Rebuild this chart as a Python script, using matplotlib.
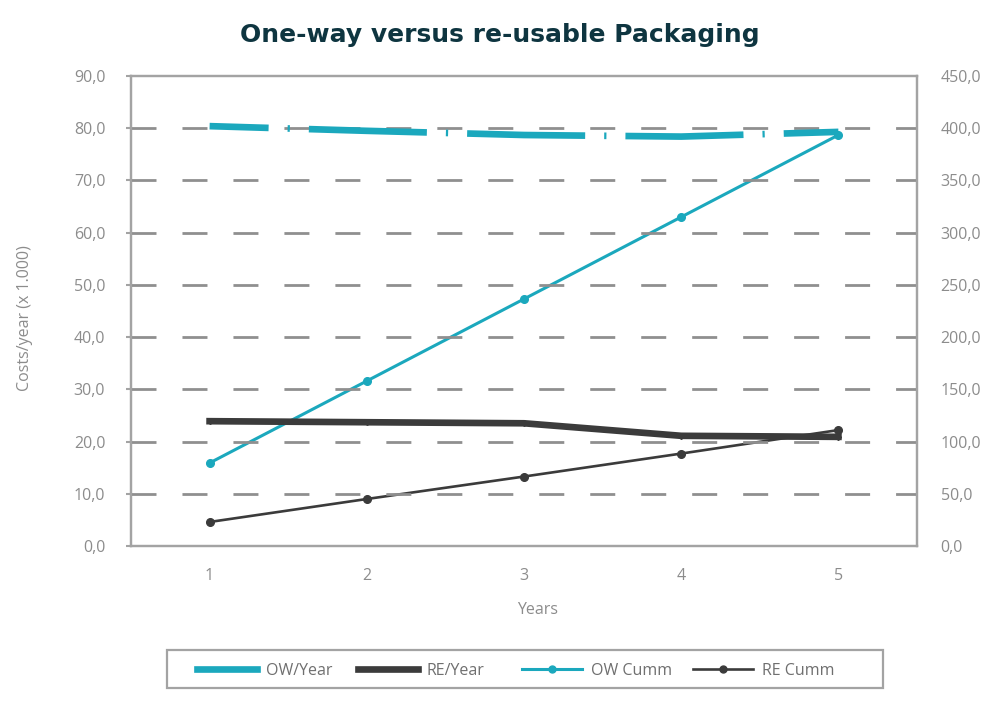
import matplotlib
matplotlib.use("Agg")
import matplotlib.pyplot as plt
from matplotlib.ticker import FuncFormatter, FixedLocator
from matplotlib.patches import Rectangle

plt.rcParams['lines.scale_dashes'] = False
plt.rcParams['font.family'] = ['Open Sans', 'DejaVu Sans']

years = [1, 2, 3, 4, 5]
ow_year = [80.4, 79.5, 78.7, 78.4, 79.3]
re_year = [23.9, 23.7, 23.5, 21.1, 20.9]
ow_cumm = [79.5, 158.0, 236.5, 315.0, 393.5]
re_cumm = [23.0, 45.0, 66.5, 88.5, 111.0]

title = "One-way versus re-usable Packaging"
ylabel = "Costs/year (x 1.000)"
xlabel = "Years"
labels = ["OW/Year", "RE/Year", "OW Cumm", "RE Cumm"]

TEAL = '#1ba8bd'
DARK = '#3b3b3b'
GRAY_TXT = '#8c8c8c'
GRID = '#8f8f8f'
SPINE = '#a3a3a3'

fig = plt.figure(figsize=(10, 7.09), dpi=100)
ax = fig.add_axes([0.131, 0.2299, 0.786, 0.6629])
ax2 = ax.twinx()

ax.set_xlim(0.5, 5.5)
ax.set_ylim(0, 90)
ax2.set_ylim(0, 450)

ax.yaxis.set_major_locator(FixedLocator([0, 10, 20, 30, 40, 50, 60, 70, 80, 90]))
ax2.yaxis.set_major_locator(FixedLocator([0, 50, 100, 150, 200, 250, 300, 350, 400, 450]))
fmt = FuncFormatter(lambda v, p: f"{v:.1f}".replace('.', ','))
ax.yaxis.set_major_formatter(fmt)
ax2.yaxis.set_major_formatter(fmt)
ax.set_xticks(years)
ax.set_xticklabels([str(y) for y in years])

for y in [10, 20, 30, 40, 50, 60, 70, 80]:
    ax.axhline(y, color=GRID, lw=2.0, dashes=(18, 18.7), dash_capstyle='butt', zorder=1)

for a in (ax, ax2):
    for s in a.spines.values():
        s.set_color(SPINE)
        s.set_linewidth(1.6)

ax.tick_params(axis='y', colors=SPINE, labelcolor=GRAY_TXT, labelsize=11.5, length=3.5, width=1.5, pad=15)
ax.tick_params(axis='x', length=0, labelcolor=GRAY_TXT, labelsize=11.5, pad=16)
ax2.tick_params(axis='y', length=0, labelcolor=GRAY_TXT, labelsize=11.5, pad=17)

# OW/Year dash-dot thick
l1, = ax.plot(years, ow_year, color=TEAL, lw=4.8, linestyle=(42.5, (85, 13.7, 1.6, 13.7)),
              dash_capstyle='butt', solid_capstyle='butt', zorder=3)
l2, = ax.plot(years, re_year, color=DARK, lw=4.8, marker='D', markersize=3, zorder=3)
l3, = ax2.plot(years, ow_cumm, color=TEAL, lw=2.2, marker='o', markersize=5.5, zorder=4)
l4, = ax2.plot(years, re_cumm, color=DARK, lw=1.9, marker='o', markersize=5.5, zorder=4)

ax.set_zorder(ax2.get_zorder() + 1)
ax.patch.set_visible(False)

fig.text(0.5, 1 - 35 / 709, title, ha='center', va='center', fontsize=18, fontweight='bold',
         color='#0e3540', family=['DejaVu Sans'])
fig.text(0.025, 1 - 318 / 709, ylabel, rotation=90, ha='center', va='center', fontsize=11.5, color=GRAY_TXT)
fig.text(0.538, 1 - 610 / 709, xlabel, ha='center', va='center', fontsize=11.5, color=GRAY_TXT)

handles = [
    plt.Line2D([], [], color=TEAL, lw=4.8),
    plt.Line2D([], [], color=DARK, lw=4.8),
    plt.Line2D([], [], color=TEAL, lw=2.2, marker='o', markersize=5),
    plt.Line2D([], [], color=DARK, lw=1.9, marker='o', markersize=5),
]
starts = [197, 358, 522, 693]
for h, lab, xs in zip(handles, labels, starts):
    lg = fig.legend([h], [lab], loc='center left', bbox_to_anchor=(xs / 1000, 1 - 671 / 709),
                    frameon=False, borderpad=0, borderaxespad=0, handlelength=3.75,
                    handletextpad=0.55, fontsize=11.5)
    for t in lg.get_texts():
        t.set_color('#6f6f6f')

fig.patches.append(Rectangle((0.167, 1 - 688 / 709), 0.716, 38 / 709, transform=fig.transFigure,
                             fill=False, edgecolor=SPINE, lw=1.6))

fig.savefig('out.png', dpi=100)
